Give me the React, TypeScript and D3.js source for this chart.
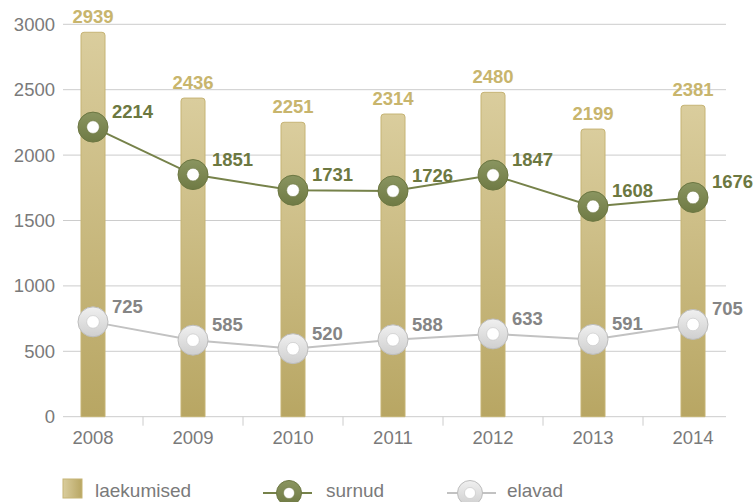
import React from "react";
import * as d3 from "d3";

const years = ["2008", "2009", "2010", "2011", "2012", "2013", "2014"];
const laekumised = [2939, 2436, 2251, 2314, 2480, 2199, 2381];
const surnud = [2214, 1851, 1731, 1726, 1847, 1608, 1676];
const elavad = [725, 585, 520, 588, 633, 591, 705];
const yTicks = [0, 500, 1000, 1500, 2000, 2500, 3000];

const W = 754;
const H = 502;
const FONT = "'Liberation Sans', Arial, Helvetica, sans-serif";

export default function App() {
  const x = d3.scaleBand<string>().domain(years).range([43, 743]).padding(0);
  const y = d3.scaleLinear().domain([0, 3000]).range([416.7, 24.3]);
  const cx = (i: number) => (x(years[i]) as number) + x.bandwidth() / 2;
  const barW = 24;
  const gridX0 = 63;
  const gridX1 = 726;

  const line = d3
    .line<number>()
    .x((_, i) => cx(i))
    .y((d) => y(d));

  const topRoundedBar = (x0: number, y0: number, w: number, h: number, r: number) =>
    `M${x0},${y0 + h}V${y0 + r}Q${x0},${y0} ${x0 + r},${y0}H${x0 + w - r}Q${x0 + w},${y0} ${x0 + w},${y0 + r}V${y0 + h}Z`;

  const marker = (px: number, py: number, fill: string, stroke: string, r = 15, ri = 6.3) => (
    <g>
      <circle cx={px} cy={py} r={r} fill={fill} stroke={stroke} strokeWidth={1} />
      <circle cx={px} cy={py} r={ri} fill="#ffffff" stroke={stroke} strokeWidth={0.5} />
    </g>
  );

  return (
    <svg
      width={W}
      height={H}
      style={{ position: "absolute", left: 0, top: 0, background: "#fff" }}
      fontFamily={FONT}
    >
      <defs>
        <linearGradient id="barGrad" x1="0" y1="0" x2="0" y2="1">
          <stop offset="0" stopColor="#dacd9d" />
          <stop offset="1" stopColor="#b8a663" />
        </linearGradient>
        <linearGradient id="legGrad" x1="0" y1="0" x2="1" y2="0">
          <stop offset="0" stopColor="#dacd9d" />
          <stop offset="1" stopColor="#b8a663" />
        </linearGradient>
        <linearGradient id="greenGrad" x1="0" y1="0" x2="0" y2="1">
          <stop offset="0" stopColor="#8a9560" />
          <stop offset="1" stopColor="#6f7a44" />
        </linearGradient>
        <linearGradient id="grayGrad" x1="0" y1="0" x2="0" y2="1">
          <stop offset="0" stopColor="#f0f0f0" />
          <stop offset="1" stopColor="#cfcfcf" />
        </linearGradient>
      </defs>

      {/* gridlines */}
      {yTicks.map((t) => (
        <line key={t} x1={gridX0} x2={gridX1} y1={y(t)} y2={y(t)} stroke="#cccccc" strokeWidth={1} />
      ))}
      {/* x ticks */}
      {years.slice(1).map((yr) => (
        <line
          key={yr}
          x1={x(yr) as number}
          x2={x(yr) as number}
          y1={y(0)}
          y2={y(0) + 9}
          stroke="#cccccc"
          strokeWidth={1}
        />
      ))}
      {/* y labels */}
      {yTicks.map((t) => (
        <text key={t} x={55} y={y(t) + 6.5} textAnchor="end" fontSize={18.5} fill="#7a7a7a">
          {t}
        </text>
      ))}
      {/* x labels */}
      {years.map((yr, i) => (
        <text key={yr} x={cx(i)} y={444} textAnchor="middle" fontSize={18.5} fill="#7a7a7a">
          {yr}
        </text>
      ))}

      {/* bars */}
      {laekumised.map((v, i) => (
        <g key={i}>
          <path
            d={topRoundedBar(cx(i) - barW / 2, y(v), barW, y(0) - y(v), 3)}
            fill="url(#barGrad)"
            stroke="#c6b475"
            strokeWidth={1}
          />
          <text
            x={cx(i)}
            y={y(v) - 9}
            textAnchor="middle"
            fontSize={18.5}
            fontWeight="bold"
            fill="#c8b56d"
          >
            {v}
          </text>
        </g>
      ))}

      {/* elavad line */}
      <path d={line(elavad) as string} fill="none" stroke="#c2c2c2" strokeWidth={2} />
      {elavad.map((v, i) => (
        <g key={i}>
          {marker(cx(i), y(v), "url(#grayGrad)", "#bdbdbd")}
          <text x={cx(i) + 19} y={y(v) - 9} fontSize={18.5} fontWeight="bold" fill="#858585">
            {v}
          </text>
        </g>
      ))}

      {/* surnud line */}
      <path d={line(surnud) as string} fill="none" stroke="#76824a" strokeWidth={2} />
      {surnud.map((v, i) => (
        <g key={i}>
          {marker(cx(i), y(v), "url(#greenGrad)", "#6c7742")}
          <text x={cx(i) + 19} y={y(v) - 9} fontSize={18.5} fontWeight="bold" fill="#6c7841">
            {v}
          </text>
        </g>
      ))}

      {/* legend */}
      <rect x={63} y={479} width={19} height={19} fill="url(#legGrad)" stroke="#c6b475" strokeWidth={1} />
      <text x={95} y={497} fontSize={19} fill="#7a7a7a">
        laekumised
      </text>

      <line x1={263} x2={312} y1={493} y2={493} stroke="#76824a" strokeWidth={2} />
      {marker(289, 493, "url(#greenGrad)", "#6c7742", 12.5, 5.5)}
      <text x={326} y={497} fontSize={19} fill="#7a7a7a">
        surnud
      </text>

      <line x1={447} x2={496} y1={493} y2={493} stroke="#c2c2c2" strokeWidth={2} />
      {marker(470, 493, "url(#grayGrad)", "#bdbdbd", 12.5, 5.5)}
      <text x={507} y={497} fontSize={19} fill="#7a7a7a">
        elavad
      </text>
    </svg>
  );
}
